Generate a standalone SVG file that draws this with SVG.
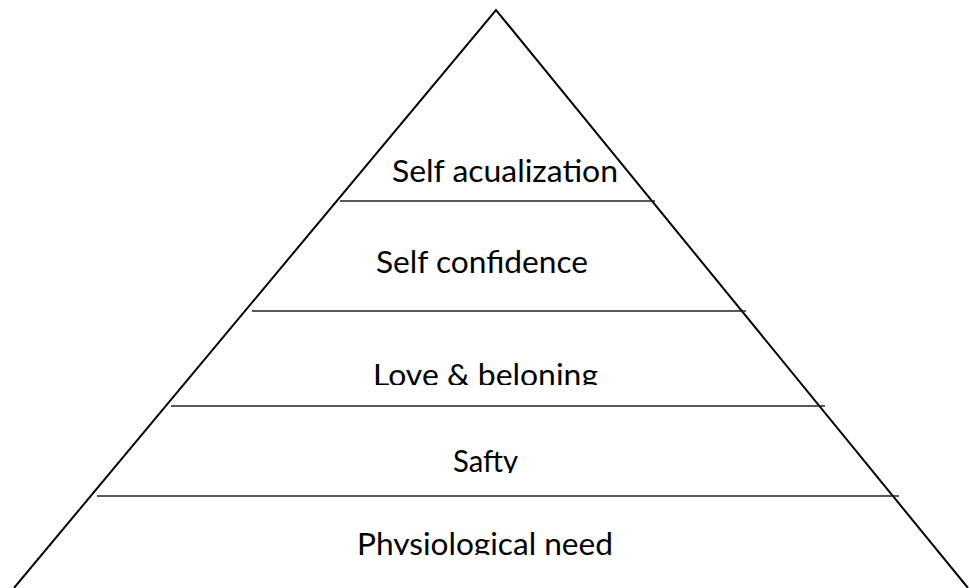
<svg xmlns="http://www.w3.org/2000/svg" width="970" height="588" viewBox="0 0 970 588">
<style>
.edge{fill:none;stroke:#000;stroke-width:2}
.div{stroke:#222;stroke-width:1.6}
.lbl{font-family:Lato,"Liberation Sans",sans-serif;font-size:30px;fill:#000}
</style>
<defs>
<clipPath id="c3"><rect x="0" y="0" width="970" height="385"/></clipPath>
<clipPath id="c4"><rect x="0" y="0" width="970" height="473"/></clipPath>
<clipPath id="c5"><rect x="0" y="0" width="970" height="555"/></clipPath>
</defs>
<rect width="970" height="588" fill="#fff"/>
<g id="connectors">
<polyline class="edge" points="14,588 496,10 968,588"/>
<line class="div" x1="340" y1="201" x2="655" y2="201"/>
<line class="div" x1="252" y1="311" x2="746" y2="311"/>
<line class="div" x1="171" y1="406" x2="825" y2="406"/>
<line class="div" x1="97" y1="496" x2="899" y2="496"/>
</g>
<g id="n1"><text class="lbl" x="392" y="182" textLength="226" lengthAdjust="spacingAndGlyphs">Self acualization</text></g>
<g id="n2"><text class="lbl" x="376" y="273" textLength="212" lengthAdjust="spacingAndGlyphs">Self confidence</text></g>
<g id="n3" clip-path="url(#c3)"><text class="lbl" x="373" y="386" textLength="225" lengthAdjust="spacingAndGlyphs">Love &amp; beloning</text></g>
<g id="n4" clip-path="url(#c4)"><text class="lbl" x="453" y="472" textLength="65" lengthAdjust="spacingAndGlyphs">Safty</text></g>
<g id="n5" clip-path="url(#c5)"><text class="lbl" x="357" y="555" textLength="256" lengthAdjust="spacingAndGlyphs">Physiological need</text></g>
</svg>
